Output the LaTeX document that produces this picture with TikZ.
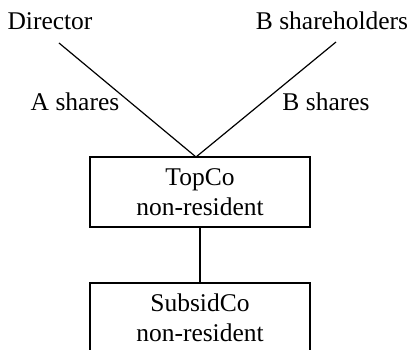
\documentclass[tikz,border=0pt]{standalone}
\usepackage{fontspec}
\setmainfont{Liberation Serif}
\begin{document}
\begin{tikzpicture}[x=1pt,y=-1pt,
  every node/.style={font=\fontsize{25.5}{30}\selectfont, inner sep=0pt},
  box/.style={draw, line width=1.5pt, minimum width=220pt, minimum height=70pt, align=center},
  link/.style={line width=1.2pt}]
\useasboundingbox (0,0) rectangle (412,350);
\clip (0,0) rectangle (412,350);
\node (dir) at (50,21) {Director};
\node (bsh) at (332,21) {B shareholders};
\node (as) at (75,102) {A shares};
\node (bs) at (326,102) {B shares};
\node[box] (top) at (200,192) {TopCo\\non-resident};
\node[box] (sub) at (200,318) {SubsidCo\\non-resident};
\coordinate (d) at (59,43);
\coordinate (b) at (336,42);
\coordinate (apex) at (196,157);
\draw[link] (d) -- (apex);
\draw[link] (b) -- (apex);
\draw[link] (top.south) -- (sub.north);
\end{tikzpicture}
\end{document}
